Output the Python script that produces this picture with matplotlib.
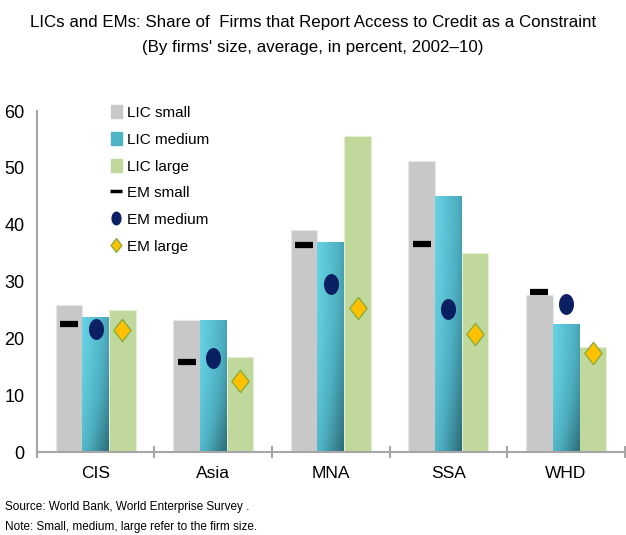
import numpy as np
import matplotlib
matplotlib.use("Agg")
import matplotlib.pyplot as plt
from matplotlib import font_manager
from matplotlib.path import Path
from matplotlib.colors import LinearSegmentedColormap
from matplotlib.patches import Patch
from matplotlib.lines import Line2D

regions = ["CIS", "Asia", "MNA", "SSA", "WHD"]
lic_small = [25.8, 23.2, 39.0, 51.2, 27.6]
lic_medium = [23.8, 23.2, 37.0, 45.1, 22.5]
lic_large = [25.0, 16.7, 55.6, 35.1, 18.5]
em_small = [22.5, 15.8, 36.4, 36.6, 28.2]
em_medium = [21.6, 16.6, 29.6, 25.2, 26.1]
em_large = [21.5, 12.5, 25.3, 20.8, 17.5]

names = {f.name for f in font_manager.fontManager.ttflist}
family = "Liberation Sans Narrow" if "Liberation Sans Narrow" in names else "Liberation Sans"
plt.rcParams["font.family"] = [family, "DejaVu Sans"]

# marker shapes (stretched like the original)
t = np.linspace(0, 2 * np.pi, 60)
ellipse = Path(np.column_stack([0.7 * np.cos(t), np.sin(t)]), closed=True)
diamond = Path([(0, 1), (0.78, 0), (0, -1), (-0.78, 0), (0, 1)], closed=True)

fig = plt.figure(figsize=(6.26, 5.35), dpi=100)
ax = fig.add_axes([0.059, 0.155, 0.939, 0.6374])

x = np.arange(len(regions))
w = 0.227
bs = ax.bar(x - w, lic_small, w, color="#C8C8C8", edgecolor="#E6E6E6", linewidth=0.8, zorder=2)
bm = ax.bar(x, lic_medium, w, color="#4FB3C6", edgecolor="none", zorder=2)
bl = ax.bar(x + w, lic_large, w, color="#C0D89C", edgecolor="#E4EFD2", linewidth=0.8, zorder=2)

# diagonal gradient on the medium bars
cmap = LinearSegmentedColormap.from_list("teal", ["#66D3E4", "#4EB0C2", "#2C6B78"])
gx, gy = np.meshgrid(np.linspace(0, 1, 50), np.linspace(0, 1, 200))
grad = 0.6 * gx + 0.4 * gy ** 2
for p in bm:
    x0, y0 = p.get_x(), p.get_y()
    im = ax.imshow(grad, cmap=cmap, extent=[x0, x0 + p.get_width(), y0, y0 + p.get_height()],
                   origin="upper", aspect="auto", zorder=2.1, vmin=0, vmax=1)
    im.set_clip_path(p)

ax.plot(x - w, em_small, ls="none", marker="_", ms=13, mew=4.5, color="black", zorder=3)
ax.plot(x, em_medium, ls="none", marker=ellipse, ms=14, color="#0B1F63", mec="#0B1F63", zorder=3)
ax.plot(x + w, em_large, ls="none", marker=diamond, ms=16, color="#FFC000", mec="#8AAE3C",
        mew=1, zorder=3)

ax.set_xlim(-0.5, len(regions) - 0.5)
ax.set_ylim(0, 60)
ax.set_yticks(range(0, 61, 10))
ax.set_xticks(x)
ax.set_xticklabels(regions)
ax.set_xticks(np.arange(-0.5, len(regions)), minor=True)
ax.tick_params(axis="x", which="major", length=0, pad=10, labelsize=12.5)
ax.tick_params(axis="x", which="minor", length=8, direction="inout", width=1.5, color="#A6A6A6")
ax.tick_params(axis="y", length=0, pad=9, labelsize=13)
for s in ("top", "right"):
    ax.spines[s].set_visible(False)
for s in ("left", "bottom"):
    ax.spines[s].set_color("#A6A6A6")
    ax.spines[s].set_linewidth(1.5)
ax.set_axisbelow(True)

handles = [
    Patch(color="#C8C8C8"),
    Patch(color="#4FB3C6"),
    Patch(color="#C0D89C"),
    Line2D([], [], ls="none", marker="_", ms=8, mew=2.5, color="black"),
    Line2D([], [], ls="none", marker=ellipse, ms=9, color="#0B1F63"),
    Line2D([], [], ls="none", marker=diamond, ms=10, color="#FFC000", mec="#8AAE3C"),
]
labels = ["LIC small", "LIC medium", "LIC large", "EM small", "EM medium", "EM large"]
ax.legend(handles, labels, loc="upper left", bbox_to_anchor=(0.115, 1.035), frameon=False,
          fontsize=11, handlelength=0.75, handleheight=0.95, handletextpad=0.3,
          labelspacing=0.78, borderaxespad=0)

fig.text(0.5, 0.958, "LICs and EMs: Share of  Firms that Report Access to Credit as a Constraint",
         ha="center", va="center", fontsize=12.2)
fig.text(0.5, 0.912, "(By firms' size, average, in percent, 2002\u201310)",
         ha="center", va="center", fontsize=12.2)
fig.text(0.008, 0.052, "Source: World Bank, World Enterprise Survey .", fontsize=8.5, va="center")
fig.text(0.008, 0.015, "Note: Small, medium, large refer to the firm size.", fontsize=8.5, va="center")

fig.savefig("out.png", dpi=100)
